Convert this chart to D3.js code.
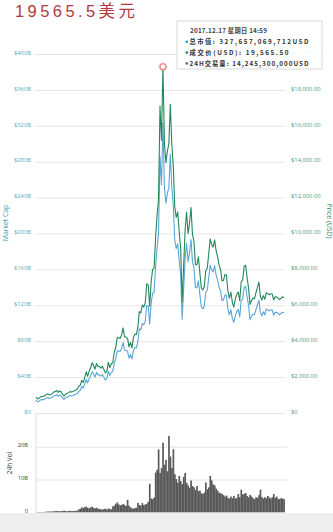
<!DOCTYPE html>
<html><head><meta charset="utf-8">
<script src="https://cdn.jsdelivr.net/npm/d3@7"></script>
<style>html,body{margin:0;padding:0;background:#fff;} svg{display:block;}</style>
</head><body>
<svg id="c" width="333" height="532"></svg>
<script>
// 4-day samples from 2017-01-07 to 2018-11-10
const startDate = "2017-01-07";
const stepDays = 4;
const price = [
 894,777,818,899,923,919,970,1036,1062,999,1035,1080,1172,1190,1260,1150,1227,1180,1043,937,
 1045,1080,1136,1190,1170,1193,1247,1280,1331,1490,1555,1820,1700,1970,2290,2050,2330,2520,2800,2650,
 2440,2760,2590,2590,2500,2610,2430,2230,2320,2830,2530,2740,2800,3380,3650,4200,4190,4150,4350,4740,
 4230,4230,4160,3680,3930,3630,4200,4400,4370,4780,5650,5570,6010,5900,6130,7200,7140,5950,7300,8000,
 8060,9730,10980,11900,17100,15200,19290,15000,13950,14600,14980,17200,14970,13770,11470,10900,11200,10100,9170,6200,
 8130,10170,11200,10000,10570,11450,9950,9580,8260,8260,8700,7800,6970,6850,7020,7930,8060,8850,9700,9390,
 9240,9650,9050,8710,8250,8000,7360,7390,7720,7690,6780,6400,6740,6170,5900,6350,6600,6740,6250,7320,
 7400,8170,8230,7540,6960,6050,6270,6400,6360,6700,6990,7300,6500,6290,6540,6340,6710,6640,6590,6640,
 6640,6300,6480,6470,6410,6310,6400,6470,6440
];
const mcapB = [
 14.4,12.5,13.2,14.5,14.9,14.8,15.7,16.7,17.2,16.2,16.7,17.5,19.0,19.3,20.4,18.6,19.9,19.1,16.9,15.2,
 17.0,17.6,18.5,19.4,19.0,19.4,20.3,20.9,21.7,24.3,25.4,29.7,27.8,32.2,37.4,33.5,38.1,41.3,45.9,43.4,
 40.0,45.3,42.5,42.5,41.1,42.9,39.9,36.7,38.2,46.6,41.7,45.2,46.2,55.7,60.2,69.3,69.2,68.6,71.9,78.4,
 70.0,70.0,68.9,61.0,65.2,60.2,69.7,73.0,72.6,79.4,93.9,92.6,100.0,98.2,102.1,120.0,119.0,99.2,121.8,133.5,
 134.6,162.5,183.5,199.0,286.1,254.3,323.0,251.3,233.8,244.7,251.2,288.6,251.3,231.2,192.7,183.2,188.4,169.9,154.3,104.4,
 137.0,171.4,188.8,168.7,178.4,193.3,168.1,161.9,139.7,139.7,147.2,132.1,118.1,116.0,119.0,134.5,136.8,150.2,164.7,159.5,
 157.1,164.1,153.9,148.2,140.5,136.2,125.4,126.0,131.7,131.2,115.7,109.3,115.2,105.4,100.9,108.6,113.0,115.4,107.1,125.5,
 126.9,140.1,141.2,129.5,119.6,103.9,107.8,110.1,109.5,115.3,120.4,125.8,112.1,108.4,112.8,109.4,115.9,114.7,113.9,114.8,
 114.9,109.0,112.2,112.1,111.1,109.4,111.0,112.3,111.7
];
const volumeB = [
 0.05,0.1,0.08,0.1,0.08,0.1,0.12,0.2,0.2,0.25,0.2,0.25,0.3,0.35,0.4,0.3,0.35,0.3,0.4,0.5,
 0.35,0.3,0.4,0.45,0.35,0.4,0.4,0.45,0.5,0.9,1.1,1.5,1.3,1.6,1.7,1.4,1.2,1.5,1.7,1.3,
 1.2,1.4,1.1,1.0,0.9,0.8,1.0,1.1,0.8,1.2,1.0,0.9,1.8,2.0,2.6,3.0,2.4,2.1,2.3,2.5,
 2.2,1.9,3.8,2.0,1.5,1.2,1.1,1.3,1.4,2.9,2.2,2.0,2.8,2.2,2.4,2.6,3.2,8.7,4.2,4.0,
 4.5,12.1,13.0,19.2,12.0,13.5,21.2,14.5,16.0,12.5,23.3,17.0,13.5,19.2,11.6,10.1,9.0,11.1,9.5,8.6,
 10.8,12.0,9.0,8.2,7.5,9.7,8.0,7.6,6.8,8.0,6.5,6.6,5.8,5.6,6.0,9.1,7.0,7.6,11.1,9.7,
 8.5,8.2,7.2,6.6,6.0,5.8,5.6,5.2,4.8,5.1,4.4,4.2,4.8,4.3,5.0,4.2,4.4,5.6,4.6,6.9,
 5.5,5.6,5.9,5.0,4.6,5.3,4.8,4.3,4.0,4.6,4.4,5.2,6.9,4.6,4.2,4.6,4.3,5.0,4.5,4.2,
 4.6,5.6,4.4,4.8,4.1,4.0,4.3,4.2,4.0
];
const capTicks = [0,40,80,120,160,200,240,280,320,360,400];
const priceTicks = [0,2000,4000,6000,8000,10000,12000,14000,16000,18000,20000];
const volTicks = [0,10,20];
const peakIndex = 86;
const titleText = "19565.5美元";
const tipDate = "2017.12.17 星期日 14:59";
const tipItems = [
  {label:"总市值: 327,657,069,712USD", color:"#3d9cb6"},
  {label:"成交价(USD): 19,565.50", color:"#2b8a5e"},
  {label:"24H交易量: 14,245,300,000USD", color:"#777"}
];

const svg = d3.select("#c");
const FONT = "'Open Sans','Noto Sans CJK SC',sans-serif";
const n = price.length;
const x = d3.scaleLinear().domain([0, n-1]).range([36, 284]);
const yCap = d3.scaleLinear().domain([0,400]).range([413,54]);
const yPrice = d3.scaleLinear().domain([0,20000]).range([413,54]);
const yVol = d3.scaleLinear().domain([0,20]).range([512.3,446.7]);

// bottom grey band
svg.append("rect").attr("x",0).attr("y",513).attr("width",333).attr("height",19).attr("fill","#eeeeee");

// left axis (market cap) with grid
const gL = svg.append("g").attr("transform","translate(35,0)")
  .call(d3.axisLeft(yCap).tickValues(capTicks).tickSize(-250).tickPadding(4)
    .tickFormat(d => d===0 ? "$0" : "$"+d+"B"));
gL.select(".domain").remove();
gL.selectAll(".tick line").attr("stroke","#e6e6e6");
gL.selectAll(".tick text").attr("dy","0.05em").attr("fill","#5aabc0")
  .style("font-family",FONT).style("font-size","5.8px");

// right axis (price)
const gR = svg.append("g").attr("transform","translate(285,0)")
  .call(d3.axisRight(yPrice).tickValues(priceTicks).tickSize(0).tickPadding(6)
    .tickFormat(d => d===0 ? "$0" : d3.format("$,.2f")(d)));
gR.select(".domain").remove();
gR.selectAll(".tick text").attr("dy","0.05em").attr("fill","#4a9c78")
  .style("font-family",FONT).style("font-size","5.8px");

// lines
const lineCap = d3.line().x((d,i)=>x(i)).y(d=>yCap(d));
const linePrice = d3.line().x((d,i)=>x(i)).y(d=>yPrice(d));
svg.append("path").datum(mcapB).attr("d",lineCap).attr("fill","none")
  .attr("stroke","#5aa6d6").attr("stroke-width",1.1).attr("stroke-linejoin","round");
svg.append("path").datum(price).attr("d",linePrice).attr("fill","none")
  .attr("stroke","#23875a").attr("stroke-width",1.1).attr("stroke-linejoin","round");

// peak marker
svg.append("circle").attr("cx",x(peakIndex)).attr("cy",yPrice(price[peakIndex])).attr("r",4.6)
  .attr("fill","rgba(235,110,110,0.25)");
svg.append("circle").attr("cx",x(peakIndex)).attr("cy",yPrice(price[peakIndex])).attr("r",3)
  .attr("fill","#fdf3f3").attr("stroke","#e77f7f").attr("stroke-width",1.1);

// axis titles
svg.append("text").attr("transform","translate(8,223) rotate(-90)").attr("text-anchor","middle")
  .attr("fill","#3d9cb6").style("font-family",FONT).style("font-size","6.8px").text("Market Cap");
svg.append("text").attr("transform","translate(327,221) rotate(90)").attr("text-anchor","middle")
  .attr("fill","#2b8a5e").style("font-family",FONT).style("font-size","6.8px").text("Price (USD)");

// volume panel
svg.append("line").attr("x1",36).attr("x2",36).attr("y1",413).attr("y2",512).attr("stroke","#dddddd");
const gV = svg.append("g").attr("transform","translate(36,0)")
  .call(d3.axisLeft(yVol).tickValues(volTicks).tickSize(-251).tickPadding(8)
    .tickFormat(d => d===0 ? "0" : d+"B"));
gV.select(".domain").remove();
gV.selectAll(".tick line").attr("stroke", d => d===0 ? "none" : "#e3e3e3");
gV.selectAll(".tick text").attr("dy","0.05em").attr("fill","#444")
  .style("font-family",FONT).style("font-size","5.8px");
const bw = x(1)-x(0);
svg.append("g").selectAll("rect").data(volumeB).join("rect")
  .attr("x",(d,i)=>x(i)-bw/2).attr("width",bw+0.2)
  .attr("y",d=>yVol(d)).attr("height",d=>yVol(0)-yVol(d))
  .attr("fill","#595959");
svg.append("text").attr("transform","translate(12,463) rotate(-90)").attr("text-anchor","middle")
  .attr("fill","#333").style("font-family",FONT).style("font-size","6.5px").text("24h Vol");

// title
svg.append("text").attr("x",15).attr("y",16.8).attr("fill","#b2393d")
  .attr("textLength",120).attr("lengthAdjust","spacing")
  .style("font-family","'Liberation Sans','Noto Sans CJK SC',sans-serif").style("font-size","16.5px")
  .text(titleText);

// tooltip
const tip = svg.append("g");
tip.append("rect").attr("x",177).attr("y",21).attr("width",145).attr("height",48)
  .attr("fill","#fff").attr("fill-opacity",0.9).attr("stroke","#cfcfcf").attr("stroke-width",0.8);
const TF = "'Noto Sans CJK SC','DejaVu Sans',sans-serif";
tip.append("text").attr("x",190).attr("y",33).attr("fill","#444")
  .attr("textLength",77).attr("lengthAdjust","spacing")
  .style("font-family",TF).style("font-size","6.3px").style("font-weight","bold").text(tipDate);
const tipWidths = [119, 99, 119];
tipItems.forEach((t,k) => {
  const yy = 44 + k*10.8;
  tip.append("circle").attr("cx",186.8).attr("cy",yy-2.2).attr("r",1.4).attr("fill",t.color);
  tip.append("text").attr("x",189.5).attr("y",yy).attr("fill","#333")
    .attr("textLength",tipWidths[k]).attr("lengthAdjust","spacing")
    .style("font-family",TF).style("font-size","6.3px").style("font-weight","bold").text(t.label);
});
</script>
</body></html>
